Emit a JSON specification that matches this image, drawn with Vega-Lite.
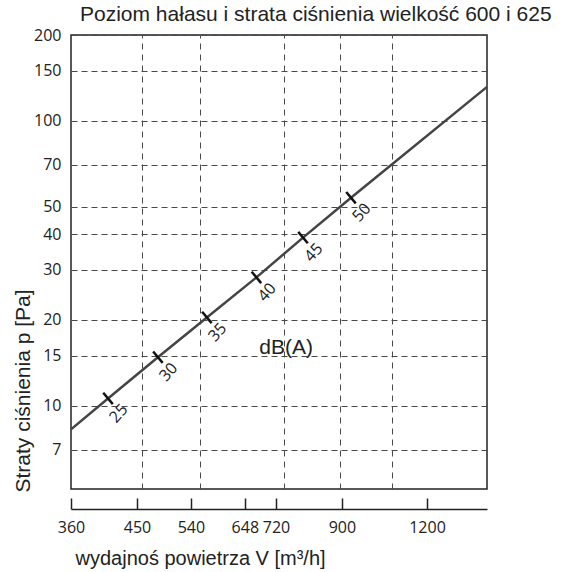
{
  "$schema": "https://vega.github.io/schema/vega-lite/v6.json",
  "width": 416,
  "height": 454,
  "autosize": {"type": "none"},
  "padding": {"left": 71, "top": 35, "right": 74, "bottom": 83},
  "background": "white",
  "config": {
    "view": {"stroke": "#222", "strokeWidth": 1.5},
    "axis": {
      "labelFont": "Open Sans",
      "labelFontSize": 16,
      "labelColor": "#222",
      "titleFont": "Liberation Sans",
      "titleFontSize": 21,
      "titleFontWeight": "normal",
      "titleColor": "#222"
    }
  },
  "title": {
    "text": "Poziom hałasu i strata ciśnienia wielkość 600 i 625",
    "font": "Liberation Sans",
    "fontSize": 21,
    "fontWeight": "normal",
    "color": "#222",
    "anchor": "start",
    "frame": "group",
    "dx": 9,
    "offset": 2
  },
  "datasets": {
    "curve": [
      {"flow": 360, "pressure": 8.26},
      {"flow": 408, "pressure": 10.6},
      {"flow": 483, "pressure": 14.8},
      {"flow": 570, "pressure": 20.4},
      {"flow": 674, "pressure": 28.2},
      {"flow": 789, "pressure": 38.9},
      {"flow": 928, "pressure": 53.7},
      {"flow": 1470, "pressure": 131.5}
    ],
    "markers": [
      {"flow": 408, "pressure": 10.6, "db": "25"},
      {"flow": 483, "pressure": 14.8, "db": "30"},
      {"flow": 570, "pressure": 20.4, "db": "35"},
      {"flow": 674, "pressure": 28.2, "db": "40"},
      {"flow": 789, "pressure": 38.9, "db": "45"},
      {"flow": 928, "pressure": 53.7, "db": "50"}
    ],
    "unit": [
      {"flow": 745, "pressure": 16.0, "text": "dB(A)"}
    ]
  },
  "layer": [
    {
      "data": {"name": "curve"},
      "mark": {"type": "line", "color": "#444", "strokeWidth": 2.5},
      "encoding": {
        "x": {
          "field": "flow",
          "type": "quantitative",
          "scale": {"type": "log", "domain": [360, 1470], "nice": false},
          "axis": {
            "orient": "top",
            "values": [458, 557, 740, 895, 1067],
            "grid": true,
            "gridDash": [6, 5],
            "gridColor": "#4a4a4a",
            "gridWidth": 1,
            "labels": false,
            "ticks": false,
            "domain": false,
            "title": null
          }
        },
        "y": {
          "field": "pressure",
          "type": "quantitative",
          "scale": {"type": "log", "domain": [5.1, 200], "nice": false},
          "axis": {
            "values": [7, 10, 15, 20, 30, 40, 50, 70, 100, 150, 200],
            "format": "d",
            "grid": true,
            "gridDash": [6, 4],
            "gridColor": "#4a4a4a",
            "gridWidth": 1,
            "ticks": false,
            "tickSize": 0,
            "domain": false,
            "labelPadding": 10,
            "labelOverlap": false,
            "title": "Straty ciśnienia p [Pa]",
            "titleAnchor": "start",
            "titleAlign": "left",
            "titleBaseline": "middle",
            "titleAngle": 270,
            "titleX": -48,
            "titleY": 457
          }
        }
      }
    },
    {
      "data": {"name": "markers"},
      "mark": {"type": "point", "shape": "stroke", "angle": 50, "size": 220, "strokeWidth": 2.5, "color": "#111", "opacity": 1},
      "encoding": {
        "x": {
          "field": "flow",
          "type": "quantitative",
          "axis": {
            "orient": "bottom",
            "values": [360, 450, 540, 648, 720, 900, 1200],
            "format": "d",
            "offset": 20,
            "grid": false,
            "tickSize": -11,
            "tickColor": "#222",
            "tickWidth": 1.5,
            "domainColor": "#222",
            "domainWidth": 1.5,
            "labelPadding": 21,
            "labelFlush": false,
            "labelOverlap": false,
            "title": "wydajnoś powietrza V [m³/h]",
            "titleFontSize": 20,
            "titleAnchor": "start",
            "titleAlign": "left",
            "titleBaseline": "alphabetic",
            "titleX": 4,
            "titleY": 55
          }
        },
        "y": {"field": "pressure", "type": "quantitative", "axis": null}
      }
    },
    {
      "data": {"name": "markers"},
      "mark": {"type": "text", "angle": -48, "dy": 18, "dx": -4, "font": "Open Sans", "fontSize": 16, "color": "#222", "align": "center", "baseline": "middle"},
      "encoding": {
        "x": {"field": "flow", "type": "quantitative", "axis": null},
        "y": {"field": "pressure", "type": "quantitative", "axis": null},
        "text": {"field": "db"}
      }
    },
    {
      "data": {"name": "unit"},
      "mark": {"type": "text", "font": "Liberation Sans", "fontSize": 21, "color": "#222", "align": "center", "baseline": "middle"},
      "encoding": {
        "x": {"field": "flow", "type": "quantitative", "axis": null},
        "y": {"field": "pressure", "type": "quantitative", "axis": null},
        "text": {"field": "text"}
      }
    }
  ],
  "resolve": {"axis": {"x": "independent", "y": "independent"}}
}
